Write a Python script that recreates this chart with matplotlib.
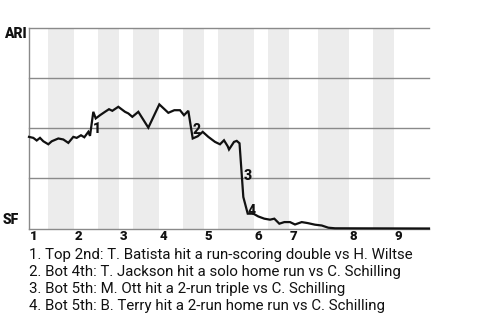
import matplotlib
matplotlib.use("Agg")
import matplotlib.pyplot as plt
import matplotlib.transforms as mtransforms

plt.rcParams["font.family"] = ["Roboto", "DejaVu Sans"]

# game progress (0-100) and ARI win probability
progress = [0, 1.08, 1.93, 2.75, 3.58, 4.83, 5.68, 7.33, 8.58, 9.83, 11.08, 11.93,
            13.0, 13.83, 14.83, 15.25, 16.08, 16.68, 17.75, 19.0, 20.0, 20.83,
            22.33, 24.0, 24.83, 25.83, 27.33, 29.83, 32.58, 34.83, 36.33, 37.75,
            38.75, 39.83, 40.93, 42.18, 43.43, 44.83, 46.5, 47.75, 48.75, 49.68,
            50.0, 51.25, 51.93, 52.63, 53.58, 54.68, 56.08, 57.33, 58.83, 60.25,
            61.33, 62.58, 63.83, 65.25, 66.5, 68.18, 69.68, 71.5, 73.18, 74.83,
            76.5, 100]
ari_wp = [0.457, 0.452, 0.439, 0.452, 0.435, 0.42, 0.435, 0.449, 0.444, 0.427,
          0.457, 0.452, 0.465, 0.455, 0.482, 0.462, 0.582, 0.549, 0.565, 0.582,
          0.595, 0.587, 0.607, 0.582, 0.574, 0.557, 0.582, 0.503, 0.619, 0.577,
          0.59, 0.59, 0.565, 0.587, 0.449, 0.46, 0.482, 0.457, 0.432, 0.42,
          0.44, 0.41, 0.394, 0.432, 0.437, 0.425, 0.157, 0.074, 0.074, 0.06,
          0.049, 0.044, 0.049, 0.024, 0.032, 0.032, 0.02, 0.032, 0.027, 0.019,
          0.015, 0.004, 0.001, 0.0]

# inning starts and bottom-half spans
inning_starts = [0, 11.25, 22.5, 32.5, 43.75, 56.25, 65, 80, 91.25]
inning_labels = ["1", "2", "3", "4", "5", "6", "7", "8", "9"]
bottom_halves = [(4.75, 11.25), (17.25, 22.5), (26, 32.5), (38.5, 43.75),
                 (47.25, 56.25), (59.75, 65), (72.25, 80), (86, 91.25)]

# key plays: index of the point after the play
event_idx = [16, 34, 46, 47]
event_text = [
    "1. Top 2nd: T. Batista hit a run-scoring double vs H. Wiltse",
    "2. Bot 4th: T. Jackson hit a solo home run vs C. Schilling",
    "3. Bot 5th: M. Ott hit a 2-run triple vs C. Schilling",
    "4. Bot 5th: B. Terry hit a 2-run home run vs C. Schilling",
]

fig = plt.figure(figsize=(4.8, 3.2), dpi=100)
ax = fig.add_axes([29 / 480, 1 - 228.5 / 320, 400 / 480, 200.5 / 320])
ax.set_xlim(0, 100)
ax.set_ylim(0, 1)

for x0, x1 in bottom_halves:
    ax.axvspan(x0, x1, color="#ececec", lw=0, zorder=0)

for y in [0, 0.25, 0.5, 0.75, 1.0]:
    ax.axhline(y, color="#8a8a8a", lw=1, zorder=1, clip_on=False)
ax.axvline(0, color="#8a8a8a", lw=1, zorder=1, clip_on=False)

ax.plot(progress, ari_wp, color="#111111", lw=1.6, zorder=3,
        solid_joinstyle="miter", clip_on=False)

for n, i in enumerate(event_idx):
    ymid = (ari_wp[i - 1] + ari_wp[i]) / 2
    ax.annotate(str(n + 1), (progress[i], ymid), xytext=(0, -4),
                textcoords="offset points", ha="left", va="center",
                fontsize=10, fontweight="heavy", color="#111111", zorder=4)

for spine in ax.spines.values():
    spine.set_visible(False)
ax.set_xticks([])
ax.set_yticks([])

trans = mtransforms.blended_transform_factory(ax.transData, ax.transAxes)
for x, lab in zip(inning_starts, inning_labels):
    ax.text(x + 0.2, -0.041, lab, transform=trans, ha="left", va="center",
            fontsize=9.5, fontweight="heavy", color="#111111")

fig.text(4 / 480, 1 - 34 / 320, "ARI", ha="left", va="center",
         fontsize=10, fontweight="heavy", color="#111111")
fig.text(3 / 480, 1 - 220 / 320, "SF", ha="left", va="center",
         fontsize=10, fontweight="heavy", color="#111111")

for k, line in enumerate(event_text):
    fig.text(29 / 480, 1 - (254.5 + 17.2 * k) / 320, line, ha="left",
             va="center", fontsize=10.8, color="#111111")

fig.savefig("out.png", dpi=100)
